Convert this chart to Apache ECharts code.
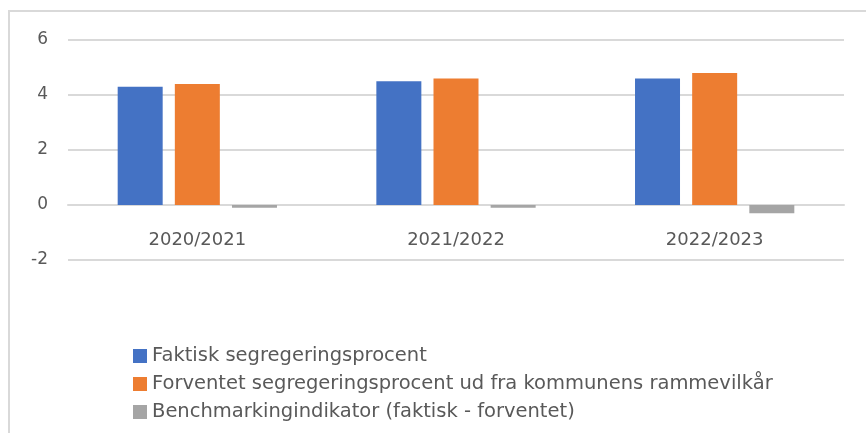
<!DOCTYPE html>
<html><head><meta charset="utf-8">
<script src="https://cdn.jsdelivr.net/npm/echarts@6/dist/echarts.min.js"></script>
<style>html,body{margin:0;padding:0;background:#fff}#c{width:866px;height:433px}</style>
</head><body><div id="c"></div>
<script>
const categories = ['2020/2021', '2021/2022', '2022/2023'];
const seriesNames = ['Faktisk segregeringsprocent', 'Forventet segregeringsprocent ud fra kommunens rammevilkår', 'Benchmarkingindikator (faktisk - forventet)'];
const faktisk = [4.3, 4.5, 4.6];
const forventet = [4.4, 4.6, 4.8];
const benchmark = [-0.1, -0.1, -0.3];
const colors = ['#4472C4', '#ED7D31', '#A5A5A5'];

const chart = echarts.init(document.getElementById('c'), null, {renderer: 'canvas'});
const font = 'DejaVu Sans, sans-serif';
chart.setOption({
  animation: false,
  color: colors,
  textStyle: {fontFamily: font},
  graphic: [{type: 'rect', shape: {x: 9, y: 11, width: 900, height: 500}, style: {fill: 'none', stroke: '#d9d9d9', lineWidth: 2}, silent: true}],
  grid: {left: 68, right: 22, top: 40, bottom: 173},
  legend: {
    orient: 'vertical', left: 128, top: 341, itemWidth: 14, itemHeight: 14, itemGap: 8,
    icon: 'rect', data: seriesNames,
    textStyle: {color: '#595959', fontSize: 19.5, lineHeight: 20, fontFamily: font}
  },
  xAxis: {
    type: 'category', data: categories, offset: -55,
    axisLine: {onZero: false, lineStyle: {color: '#d9d9d9', width: 2}},
    axisTick: {show: false},
    axisLabel: {color: '#595959', fontSize: 18, margin: 26}
  },
  yAxis: {
    type: 'value', min: -2, max: 6, interval: 2,
    axisLine: {show: false}, axisTick: {show: false},
    axisLabel: {color: '#595959', fontSize: 17, margin: 20},
    splitLine: {lineStyle: {color: '#d9d9d9', width: 2}}
  },
  series: [
    {name: seriesNames[0], type: 'bar', data: faktisk, barWidth: 45, barGap: '27%'},
    {name: seriesNames[1], type: 'bar', data: forventet, barWidth: 45, barGap: '27%'},
    {name: seriesNames[2], type: 'bar', data: benchmark, barWidth: 45, barGap: '27%'}
  ]
});
</script></body></html>
